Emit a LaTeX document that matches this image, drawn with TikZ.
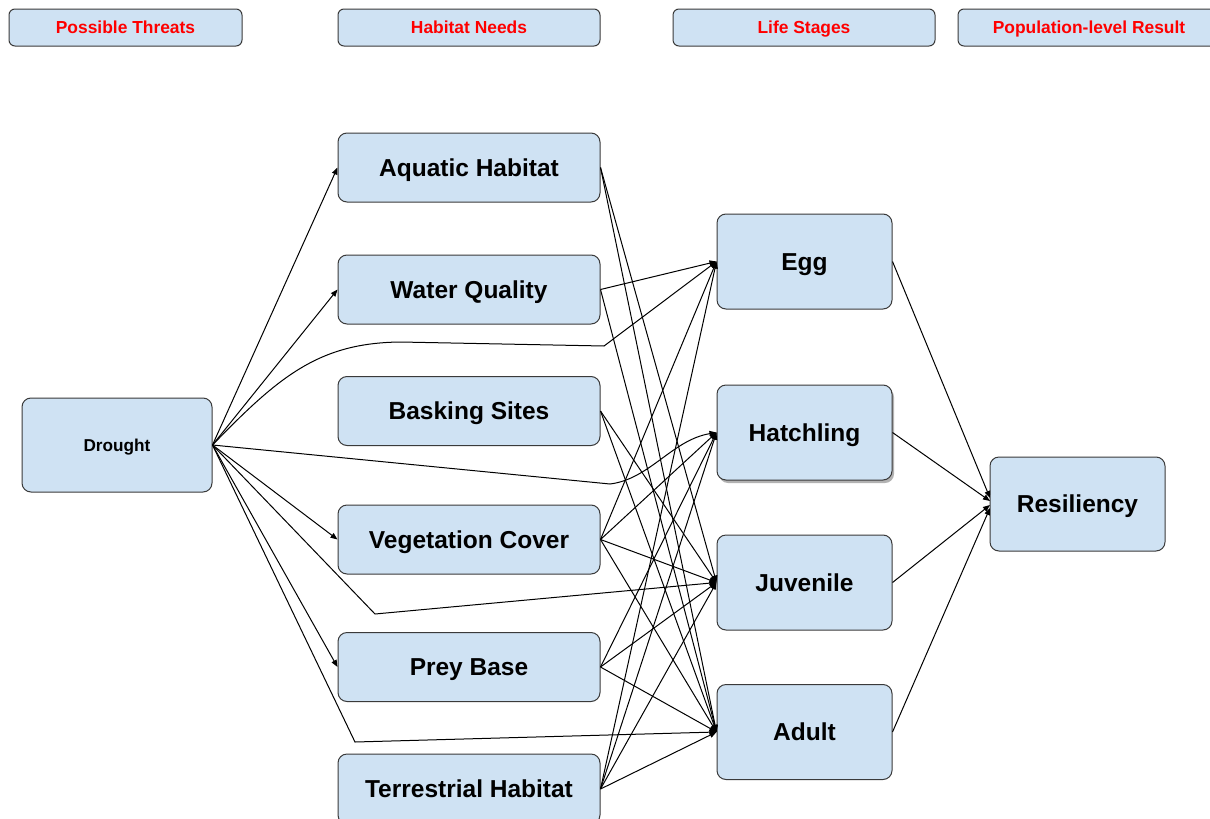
\documentclass[tikz,border=0pt]{standalone}
\usepackage{fontspec}
\setmainfont{Liberation Sans}
\usetikzlibrary{arrows.meta,shadows}
\definecolor{boxfill}{HTML}{CFE2F3}
\definecolor{boxdraw}{HTML}{3A3A3A}
\begin{document}
\begin{tikzpicture}[x=1pt,y=-1pt,
  box/.style={draw=boxdraw,fill=boxfill,rounded corners=9pt,line width=1pt,inner sep=0pt,
    text height=17.5pt,text depth=0pt,
    font=\bfseries\fontsize{24.5}{29}\selectfont},
  hdr/.style={box,rounded corners=6pt,minimum width=233pt,minimum height=37pt,text=red,
    text height=12.5pt,font=\bfseries\fontsize{17.4}{21}\selectfont},
  habbox/.style={box,minimum width=262pt,minimum height=69pt},
  lifebox/.style={box,minimum width=175pt,minimum height=95pt},
  arr/.style={draw=black,line width=1pt,-{Triangle[length=7pt,width=5.5pt]}}
]
\useasboundingbox (0,0) rectangle (1210,819);
% headers
\node[hdr] (thr) at (125.5,27.5) {Possible Threats};
\node[hdr,minimum width=262pt] (hab) at (469,27.5) {Habitat Needs};
\node[hdr,minimum width=262pt] (lif) at (804,27.5) {Life Stages};
\node[hdr,minimum width=262pt] (pop) at (1089,27.5) {Population-level Result};
% threat
\node[box,minimum width=190pt,minimum height=94pt,text height=12.3pt,font=\bfseries\fontsize{17.2}{20}\selectfont] (dr) at (117,445) {Drought};
% habitat needs
\node[habbox] (aq) at (469,167.5) {Aquatic Habitat};
\node[habbox] (wq) at (469,289.5) {Water Quality};
\node[habbox] (bask) at (469,411) {Basking Sites};
\node[habbox] (veg) at (469,539.5) {Vegetation Cover};
\node[habbox] (prey) at (469,667) {Prey Base};
\node[habbox,minimum height=70pt] (terr) at (469,789) {Terrestrial Habitat};
% life stages
\node[lifebox] (egg) at (804.5,261.5) {Egg};
\node[lifebox,drop shadow={shadow xshift=2pt,shadow yshift=-3pt,opacity=0.3,fill=black}] (hatch) at (804.5,432.5) {Hatchling};
\node[lifebox] (juv) at (804.5,582.5) {Juvenile};
\node[lifebox] (adult) at (804.5,732) {Adult};
% result
\node[box,minimum width=175pt,minimum height=94pt] (res) at (1077.5,504) {Resiliency};
% bend points
\coordinate (c1) at (400,342);
\coordinate (c2) at (604,346);
\coordinate (c3) at (610,484);
\coordinate (c4) at (375,614);
\coordinate (c5) at (355,742);
\coordinate (r1) at (990,498);
\coordinate (r2) at (990,501);
\coordinate (r3) at (990,505);
\coordinate (r4) at (990,508);
% drought connectors
\draw[arr] (dr.east) -- (aq.west);
\draw[arr] (dr.east) -- (wq.west);
\draw[arr] (dr.east) .. controls (280,375) and (320,343) .. (c1) -- (c2) -- (egg.west);
\draw[arr] (dr.east) -- (c3) .. controls (650,479) and (672,440) .. (hatch.west);
\draw[arr] (dr.east) -- (veg.west);
\draw[arr] (dr.east) -- (c4) -- (juv.west);
\draw[arr] (dr.east) -- (prey.west);
\draw[arr] (dr.east) -- (c5) -- (adult.west);
% habitat -> life stage
\draw[arr] (aq.east) -- (juv.west);
\draw[arr] (aq.east) -- (adult.west);
\draw[arr] (wq.east) -- (egg.west);
\draw[arr] (wq.east) -- (adult.west);
\draw[arr] (bask.east) -- (juv.west);
\draw[arr] (bask.east) -- (adult.west);
\draw[arr] (veg.east) -- (egg.west);
\draw[arr] (veg.east) -- (hatch.west);
\draw[arr] (veg.east) -- (juv.west);
\draw[arr] (veg.east) -- (adult.west);
\draw[arr] (prey.east) -- (hatch.west);
\draw[arr] (prey.east) -- (juv.west);
\draw[arr] (prey.east) -- (adult.west);
\draw[arr] (terr.east) -- (egg.west);
\draw[arr] (terr.east) -- (hatch.west);
\draw[arr] (terr.east) -- (juv.west);
\draw[arr] (terr.east) -- (adult.west);
% life stage -> result
\draw[arr] (egg.east) -- (r1);
\draw[arr] (hatch.east) -- (r2);
\draw[arr] (juv.east) -- (r3);
\draw[arr] (adult.east) -- (r4);
\end{tikzpicture}
\end{document}
